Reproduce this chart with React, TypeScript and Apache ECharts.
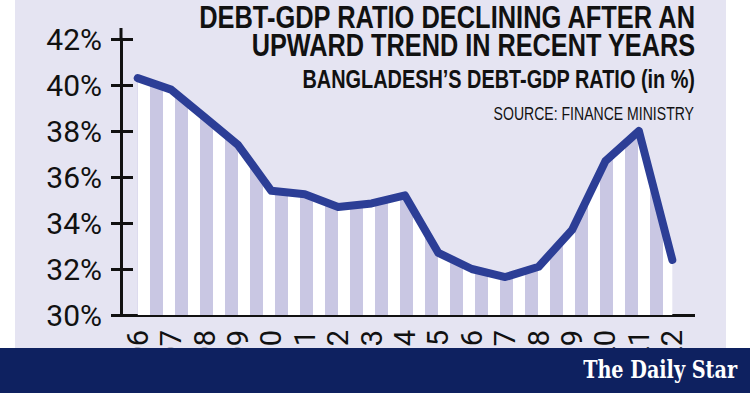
import React, { useEffect, useRef } from "react";
import * as echarts from "echarts";

const categories = [
  "2005-06", "2006-07", "2007-08", "2008-09", "2009-10", "2010-11", "2011-12",
  "2012-13", "2013-14", "2014-15", "2015-16", "2016-17", "2017-18", "2018-19",
  "2019-20", "2020-21", "2021-22",
];
const debtRatio = [
  40.3, 39.8, 38.6, 37.4, 35.4, 35.25, 34.7, 34.85, 35.2, 32.7, 32.0, 31.65,
  32.1, 33.7, 36.7, 38.0, 32.4,
];
const yMin = 30;
const yMax = 42;
const yStep = 2;
const titleLines = [
  "DEBT-GDP RATIO DECLINING AFTER AN",
  "UPWARD TREND IN RECENT YEARS",
];
const subtitle = "BANGLADESH\u2019S DEBT-GDP RATIO (in %)";
const sourceText = "SOURCE: FINANCE MINISTRY";
const brand = "The Daily Star";

const SANS = '"Liberation Sans", Arial, sans-serif';
const AXISFONT = 'Roboto, "Liberation Sans", sans-serif';

export default function App() {
  const ref = useRef<HTMLDivElement>(null);
  useEffect(() => {
    document.body.style.margin = "0";
    const chart = echarts.init(ref.current!, null, { renderer: "svg" });
    const canvas = document.createElement("canvas");
    canvas.width = 25;
    canvas.height = 4;
    const ctx = canvas.getContext("2d")!;
    ctx.fillStyle = "#ffffff";
    ctx.fillRect(0, 0, 25, 4);
    ctx.fillStyle = "#C9C7E3";
    ctx.fillRect(0, 0, 13, 4);

    const titleText = (text: string, x: number, y: number, font: string, sx: number) => ({
      type: "text",
      z: 101,
      x,
      y,
      scaleX: sx,
      style: { text, fill: "#111", font, align: "right", verticalAlign: "middle" },
    });

    const build = (offset: number) => ({
      animation: false,
      backgroundColor: "#E5E4F2",
      grid: {
        left: 121,
        right: 61,
        top: 39,
        bottom: 78,
        containLabel: false,
        outerBoundsMode: "none",
      },
      xAxis: {
        type: "category",
        data: categories,
        boundaryGap: true,
        axisLine: { lineStyle: { color: "#111", width: 3 } },
        axisTick: { show: false },
        axisLabel: {
          interval: 0,
          rotate: 90,
          margin: 15,
          fontSize: 29,
          color: "#111",
          fontFamily: AXISFONT,
        },
        splitLine: { show: false },
      },
      yAxis: [
        {
          type: "value",
          min: yMin,
          max: yMax,
          interval: yStep,
          axisLine: { show: true, lineStyle: { color: "#111", width: 3 } },
          axisTick: { show: true, length: 10, lineStyle: { color: "#111", width: 3 } },
          axisLabel: {
            formatter: "{value}%",
            fontSize: 30,
            margin: 19,
            color: "#111",
            fontFamily: AXISFONT,
          },
          splitLine: { show: false },
        },
        {
          type: "value",
          min: yMin,
          max: yMax,
          interval: yStep,
          position: "left",
          axisLine: { show: false },
          axisTick: { show: true, inside: true, length: 12, lineStyle: { color: "#111", width: 3 } },
          axisLabel: { show: false },
          splitLine: { show: false },
        },
      ],
      series: [
        {
          type: "line",
          data: debtRatio,
          yAxisIndex: 0,
          showSymbol: false,
          smooth: false,
          lineStyle: { color: "#2C3E96", width: 8, cap: "round", join: "round" },
          areaStyle: {
            origin: "start",
            opacity: 1,
            color: { image: canvas, repeat: "repeat", x: offset, y: 0 },
          },
          z: 3,
        },
      ],
      graphic: [
        { type: "rect", z: 100, shape: { x: 0, y: 0, width: 15, height: 348 }, style: { fill: "#ffffff" } },
        { type: "rect", z: 100, shape: { x: 726, y: 0, width: 24, height: 348 }, style: { fill: "#ffffff" } },
        { type: "line", z: 50, shape: { x1: 121, y1: 28, x2: 121, y2: 40 }, style: { stroke: "#111", lineWidth: 3 } },
        { type: "line", z: 50, shape: { x1: 686, y1: 315.5, x2: 695, y2: 315.5 }, style: { stroke: "#111", lineWidth: 3 } },
        { type: "rect", z: 100, shape: { x: 0, y: 348, width: 750, height: 45 }, style: { fill: "#0E2160" } },
        titleText(titleLines[0], 695, 17, `bold 32px ${SANS}`, 0.795),
        titleText(titleLines[1], 695, 45, `bold 32px ${SANS}`, 0.79),
        titleText(subtitle, 695, 79, `bold 25.5px ${SANS}`, 0.78),
        titleText(sourceText, 694, 113.5, `18.5px ${SANS}`, 0.76),
        {
          type: "text",
          z: 101,
          x: 737,
          y: 370,
          scaleX: 0.8,
          style: {
            text: brand,
            fill: "#ffffff",
            font: `bold 24px "DejaVu Serif", "Liberation Serif", serif`,
            align: "right",
            verticalAlign: "middle",
          },
        },
      ],
    });

    chart.setOption(build(0));
    const px = chart.convertToPixel({ xAxisIndex: 0 }, categories[0]) as number;
    chart.setOption(build(typeof px === "number" ? px : 137));
    return () => chart.dispose();
  }, []);
  return (
    <div
      ref={ref}
      style={{ position: "fixed", left: 0, top: 0, width: 750, height: 393 }}
    />
  );
}
